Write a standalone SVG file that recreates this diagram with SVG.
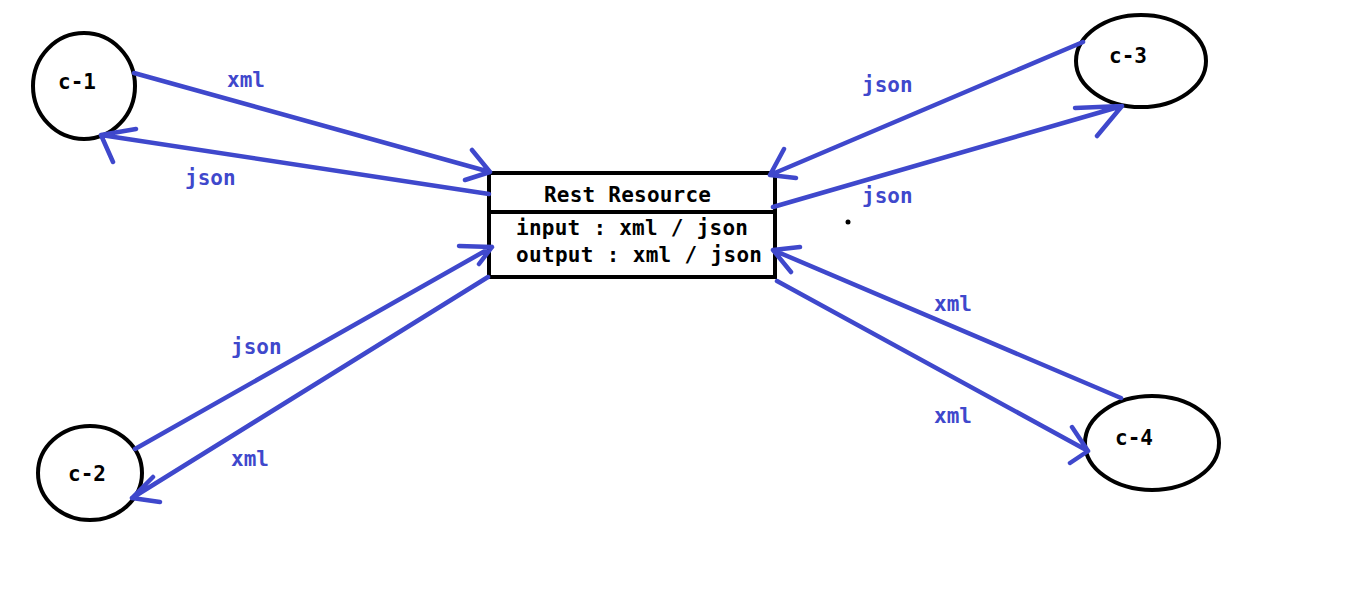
<svg xmlns="http://www.w3.org/2000/svg" width="1360" height="593" viewBox="0 0 1360 593">
<style>
.node{fill:none;stroke:#000;stroke-width:4}
.t{font-family:"DejaVu Sans Mono","Liberation Mono",monospace;font-weight:bold;font-size:21px;fill:#000}
.lbl{font-family:"DejaVu Sans Mono","Liberation Mono",monospace;font-weight:bold;font-size:21px;fill:#3f48cc}
.c{fill:none;stroke:#3f48cc;stroke-width:4.5;stroke-linecap:round;stroke-linejoin:round}
</style>
<rect width="1360" height="593" fill="#fff"/>
<g id="c-1"><ellipse class="node" cx="84" cy="86" rx="51" ry="53"/><text class="t" x="58" y="89">c-1</text></g>
<g id="c-2"><ellipse class="node" cx="90" cy="473" rx="52" ry="47"/><text class="t" x="68" y="481">c-2</text></g>
<g id="c-3"><ellipse class="node" cx="1141" cy="61" rx="65" ry="46"/><text class="t" x="1109" y="63">c-3</text></g>
<g id="c-4"><ellipse class="node" cx="1152" cy="443" rx="67" ry="47"/><text class="t" x="1115" y="445">c-4</text></g>
<g id="rest-resource">
<rect class="node" x="489" y="173" width="286" height="104"/>
<line x1="489" y1="212" x2="777" y2="212" stroke="#000" stroke-width="4"/>
<text class="t" x="544" y="202" textLength="167">Rest Resource</text>
<text class="t" x="516" y="235" textLength="232">input : xml / json</text>
<text class="t" x="516" y="262" textLength="246">output : xml / json</text>
</g>
<g id="connectors">
<path class="c" d="M134,73 L490,172 M472,150 L490,172 L465,180"/>
<path class="c" d="M489,194 L101,135 M136,129 L101,135 L113,162"/>
<path class="c" d="M1083,42 L770,175 M784,149 L770,175 L796,178"/>
<path class="c" d="M773,207 L1122,106 M1075,108 L1122,106 L1097,136"/>
<path class="c" d="M1121,398 L773,250 M800,247 L773,250 L791,272"/>
<path class="c" d="M777,281 L1088,451 M1072,427 L1088,451 L1070,463"/>
<path class="c" d="M135,449 L492,247 M459,246 L492,247 L479,264"/>
<path class="c" d="M488,277 L132,498 M153,477 L132,498 L160,502"/>
</g>
<g id="labels">
<text class="lbl" x="227" y="87">xml</text>
<text class="lbl" x="185" y="185">json</text>
<text class="lbl" x="862" y="92">json</text>
<text class="lbl" x="862" y="203">json</text>
<text class="lbl" x="934" y="311">xml</text>
<text class="lbl" x="934" y="423">xml</text>
<text class="lbl" x="231" y="354">json</text>
<text class="lbl" x="231" y="466">xml</text>
</g>
<circle cx="848" cy="222" r="2.5" fill="#000"/>
</svg>
